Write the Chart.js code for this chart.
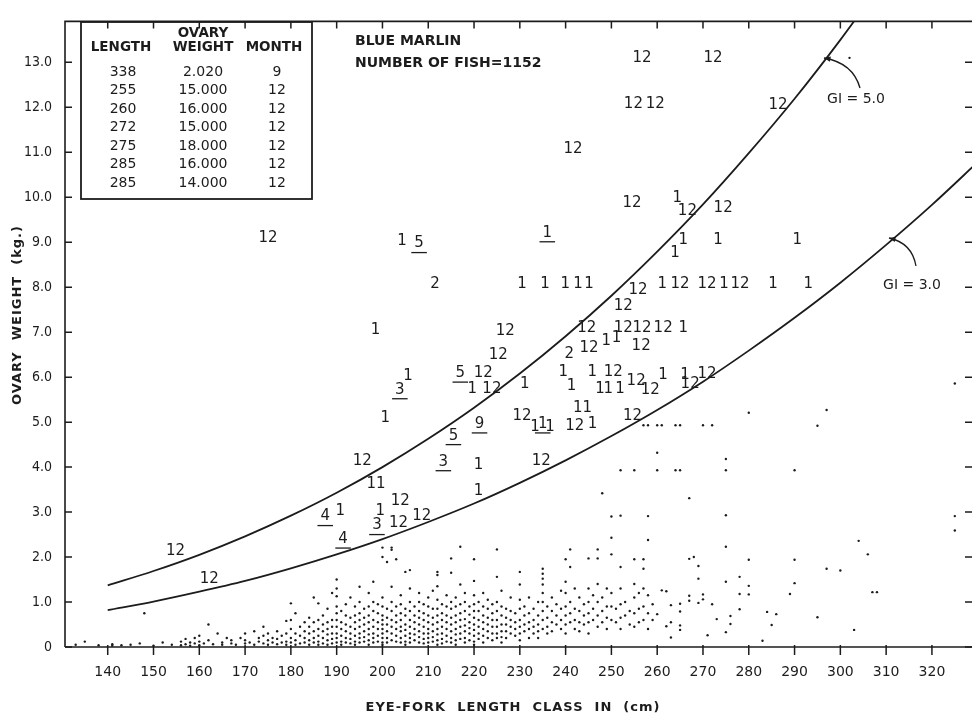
<!DOCTYPE html>
<html>
<head>
<meta charset="utf-8">
<script src="https://cdn.jsdelivr.net/npm/chart.js@4"></script>
<style>
  html, body { margin: 0; padding: 0; background: #fff; overflow: hidden; }
  canvas { display: block; }
</style>
</head>
<body>
<canvas id="marlinChart" width="980" height="721" style="width:980px;height:721px"></canvas>
<script>
// Axis ticks
const xTicks = [140, 150, 160, 170, 180, 190, 200, 210, 220, 230, 240, 250, 260, 270, 280, 290, 300, 310, 320];
const yTicks = [0, 1, 2, 3, 4, 5, 6, 7, 8, 9, 10, 11, 12, 13];

// Gonad index reference curves (at each 10 cm class)
const giLen = [140, 150, 160, 170, 180, 190, 200, 210, 220, 230, 240, 250, 260, 270, 280, 290, 300, 310, 320, 330];
const gi5Wt = [1.37, 1.69, 2.05, 2.46, 2.92, 3.43, 4.00, 4.63, 5.32, 6.08, 6.91, 7.81, 8.79, 9.84, 10.98, 12.19, 13.5, 14.9, null, null];
const gi3Wt = [0.82, 1.01, 1.23, 1.47, 1.75, 2.06, 2.40, 2.78, 3.19, 3.65, 4.15, 4.69, 5.27, 5.90, 6.59, 7.32, 8.10, 8.94, 9.83, 10.78];

// Fish without month mark: [length class, weights...]
const dotCols = [
  [133, .05], [135, .12], [138, .04], [141, .06, .03], [143, .04], [145, .05], [147, .08], [148, .75],
  [150, .03], [152, .1], [154, .05], [156, .12, .04], [157, .18, .06], [158, .1, .03], [159, .2, .08],
  [160, .25, .12, .04], [161, .08], [162, .5, .15], [163, .06], [164, .3], [165, .1, .05], [166, .2],
  [167, .15, .08], [168, .05], [169, .2], [170, .3, .15, .08], [171, .1], [172, .35, .05], [173, .2, .12],
  [174, .45, .25, .08], [175, .3, .15, .05], [176, .2, .1], [177, .35, .18, .06], [178, .25, .1],
  [179, .58, .3, .12, .05], [180, .97, .6, .4, .2, .1], [181, .75, .3, .15, .05], [182, .45, .25, .08],
  [183, .55, .35, .2, .1], [184, .65, .45, .3, .15, .05], [185, 1.1, .55, .35, .2, .1],
  [186, .97, .6, .4, .25, .12, .05], [187, .7, .5, .35, .2, .08], [188, .85, .55, .4, .28, .15, .05],
  [189, 1.2, .6, .45, .3, .18, .08], [190, 1.5, 1.3, 1.13, .9, .75, .6, .45, .3, .2, .1],
  [191, .8, .55, .4, .25, .12, .05], [192, .95, .7, .5, .35, .2, .1], [193, 1.1, .65, .45, .3, .18, .08],
  [194, .9, .7, .55, .4, .25, .12, .05], [195, 1.34, 1.0, .75, .6, .45, .3, .2, .1],
  [196, .85, .65, .5, .35, .22, .12], [197, 1.2, .9, .7, .55, .4, .28, .15, .05],
  [198, 1.45, 1.0, .8, .6, .45, .3, .2, .1], [199, .95, .75, .55, .4, .25, .12],
  [200, 2.21, 2.0, 1.1, .9, .7, .6, .5, .4, .3, .2, .1, .05], [201, 1.89, .85, .65, .5, .35, .2, .1],
  [202, 2.21, 2.16, 1.34, 1.0, .8, .6, .45, .3, .15], [203, 1.95, .9, .7, .55, .4, .25, .12],
  [204, 1.15, .95, .75, .6, .45, .35, .2, .1], [205, 1.67, .85, .7, .5, .38, .25, .12, .05],
  [206, 1.71, 1.3, 1.0, .8, .6, .45, .3, .2, .1], [207, .9, .7, .55, .4, .28, .15],
  [208, 1.2, 1.0, .8, .65, .5, .35, .22, .1], [209, .95, .75, .6, .45, .3, .18, .08],
  [210, 1.1, .9, .7, .55, .4, .3, .2, .1], [211, 1.25, .85, .65, .5, .35, .22, .12],
  [212, 1.67, 1.6, 1.35, 1.05, .85, .7, .55, .4, .28, .15, .05], [213, .95, .75, .6, .45, .3, .18, .08],
  [214, 1.15, .9, .7, .55, .4, .25, .12], [215, 1.97, 1.65, 1.0, .85, .65, .5, .35, .2, .1],
  [216, 1.1, .9, .7, .55, .4, .28, .15, .05], [217, 2.23, 1.39, .95, .75, .6, .45, .3, .18],
  [218, 1.2, 1.0, .8, .62, .48, .35, .2, .1], [219, .9, .72, .55, .42, .3, .15],
  [220, 1.95, 1.47, 1.15, .95, .8, .65, .5, .38, .25, .12, .05], [221, 1.0, .8, .6, .45, .3, .18],
  [222, 1.2, .9, .7, .55, .4, .25, .1], [223, 1.05, .85, .65, .5, .35, .2], [224, .95, .75, .6, .45, .3, .15],
  [225, 2.17, 1.56, 1.0, .8, .6, .45, .3, .2], [226, 1.25, .9, .7, .5, .35, .22, .1], [227, .85, .65, .5, .35, .2],
  [228, 1.1, .8, .6, .45, .3], [229, .75, .55, .4, .25], [230, 1.67, 1.39, 1.05, .85, .6, .45, .3, .15],
  [231, .9, .7, .5, .35], [232, 1.1, .75, .55, .4, .2], [233, .85, .6, .45, .3], [234, 1.0, .7, .5, .35, .2],
  [235, 1.74, 1.63, 1.52, 1.39, 1.2, 1.0, .8, .6, .4], [236, .9, .65, .45, .3], [237, 1.1, .8, .55, .35],
  [238, .95, .7, .5], [239, 1.25, .85, .6, .4], [240, 1.95, 1.45, 1.2, .9, .7, .5, .3],
  [241, 2.17, 1.78, 1.0, .75, .55], [242, 1.3, .85, .6, .4], [243, 1.1, .8, .55, .35], [244, .95, .7, .5],
  [245, 1.97, 1.3, 1.0, .75, .55, .3], [246, 1.15, .85, .6], [247, 2.17, 1.97, 1.4, 1.0, .7, .45],
  [248, 3.42, 1.1, .8, .55], [249, 1.3, .9, .65, .4], [250, 2.9, 2.43, 2.06, 1.2, .9, .6], [251, .85, .55],
  [252, 3.93, 2.92, 1.78, 1.3, .95, .65, .4], [253, 1.0, .7], [254, .8, .5], [255, 3.93, 1.95, 1.4, 1.1, .75, .45],
  [256, 1.2, .85, .55], [257, 4.93, 1.95, 1.74, 1.3, .9, .6], [258, 4.93, 2.91, 2.38, 1.15, .75, .4],
  [259, .95, .6], [260, 4.93, 4.32, 3.93, .73], [261, 4.93, 1.26], [262, 1.24, .46], [263, .93, .55, .21],
  [264, 4.93, 3.93], [265, 4.93, 3.93, .96, .79, .48, .38], [267, 3.31, 1.96, 1.14, 1.03], [268, 2.0],
  [269, 1.8, 1.52, .98], [270, 4.93, 1.17, 1.06], [271, .26], [272, 4.93, .95], [273, .62],
  [275, 4.18, 3.93, 2.93, 2.23, 1.45, .33], [276, .69, .51], [278, 1.56, 1.18, .84], [280, 5.21, 1.94, 1.36, 1.17],
  [283, .14], [284, .78], [285, .49], [286, .73], [289, 1.18], [290, 3.93, 1.94, 1.42], [295, 4.92, .66],
  [297, 5.27, 1.74], [300, 1.7], [302, 13.1], [303, .38], [304, 2.36], [306, 2.06], [307, 1.22], [308, 1.22],
  [325, 5.86, 2.91, 2.59]
];

// Fish marked with spawning month
const labelLen = [154.8, 162.2, 175.0, 195.6, 198.5, 203.8, 205.6, 200.6, 198.6, 203.9, 199.5, 198.8, 203.5, 208.6,
  187.5, 190.8, 191.4, 204.3, 208.0, 211.5, 226.8, 225.3, 217.0, 222.0, 219.6, 223.9, 231.1, 215.5, 221.2, 230.5,
  233.3, 235.0, 236.6, 242.0, 245.9, 243.7, 254.6, 230.5, 235.5, 239.9, 242.7, 245.1, 236.0, 255.8, 252.6, 244.6,
  245.1, 248.9, 251.1, 252.6, 256.7, 256.5, 240.8, 239.5, 241.3, 245.8, 250.4, 247.5, 249.3, 251.9, 255.4, 258.5,
  261.1, 265.0, 270.9, 274.6, 278.1, 285.3, 293.0, 261.3, 265.7, 261.3, 266.1, 267.2, 270.9, 272.2, 256.7, 254.8,
  259.6, 241.6, 254.5, 286.4, 264.4, 266.6, 274.4, 265.7, 273.3, 290.6, 263.9, 213.3, 221.0, 221.0, 234.7];
const labelWt = [2.13, 1.52, 9.10, 4.14, 7.05, 5.72, 6.02, 5.09, 3.62, 3.25, 3.03, 2.70, 2.76, 2.90,
  2.90, 3.03, 2.40, 9.03, 8.97, 8.06, 7.02, 6.50, 6.09, 6.09, 5.74, 5.74, 5.85, 4.70, 4.96, 5.13,
  4.88, 4.96, 4.88, 4.92, 4.96, 5.31, 5.13, 8.06, 8.06, 8.06, 8.06, 8.06, 9.21, 7.93, 7.58, 7.09,
  6.65, 6.80, 6.87, 7.09, 7.09, 6.70, 6.52, 6.11, 5.79, 6.11, 6.11, 5.74, 5.74, 5.74, 5.91, 5.72,
  8.06, 8.06, 8.06, 8.06, 8.06, 8.06, 8.06, 7.09, 7.09, 6.05, 6.05, 5.85, 6.07, 13.09, 13.09, 12.07,
  12.07, 11.07, 9.86, 12.05, 9.97, 9.69, 9.75, 9.04, 9.04, 9.04, 8.75, 4.12, 4.05, 3.47, 4.14];
const labelText = ["12", "12", "12", "12", "1", "3", "1", "1", "11", "12", "1", "3", "12", "12",
  "4", "1", "4", "1", "5", "2", "12", "12", "5", "12", "1", "12", "1", "5", "9", "12",
  "1", "1", "1", "12", "1", "11", "12", "1", "1", "1", "1", "1", "1", "12", "12", "12",
  "12", "1", "1", "12", "12", "12", "2", "1", "1", "1", "12", "1", "1", "1", "12", "12",
  "1", "12", "12", "1", "12", "1", "1", "12", "1", "1", "1", "12", "12", "12", "12", "12",
  "12", "12", "12", "12", "1", "12", "12", "1", "1", "1", "1", "3", "1", "1", "12"];
const labelUnder = [5, 11, 14, 16, 18, 22, 27, 28, 31, 42, 89];

// Inset table
const tableLen = ["338", "255", "260", "272", "275", "285", "285"];
const tableWt = ["2.020", "15.000", "16.000", "15.000", "18.000", "16.000", "14.000"];
const tableMonth = ["9", "12", "12", "12", "12", "12", "12"];

const INK = "#1c1c1c";
const FONT = '"DejaVu Sans", sans-serif';
const NARROW = '"DejaVu Sans Condensed", "DejaVu Sans", sans-serif';

const dotPoints = [];
dotCols.forEach((col) => {
  col.slice(1).forEach((w) => dotPoints.push({ x: col[0], y: w }));
});

const curve = (ys) => giLen.map((l, i) => ({ x: l, y: ys[i] })).filter((p) => p.y !== null);

const frame = {
  id: "frame",
  afterDraw(chart) {
    const { ctx, chartArea: a, scales } = chart;
    const x = scales.x, y = scales.y;
    ctx.save();
    ctx.strokeStyle = INK;
    ctx.fillStyle = INK;
    ctx.lineWidth = 1.6;
    ctx.beginPath();
    ctx.moveTo(a.left, a.bottom); ctx.lineTo(a.left, a.top); ctx.lineTo(a.right, a.top);
    ctx.lineTo(a.right, a.bottom); ctx.lineTo(a.left, a.bottom);
    ctx.stroke();

    // ticks: bottom outward, top/left/right inward
    ctx.lineWidth = 1.5;
    ctx.beginPath();
    xTicks.forEach((t) => {
      const px = x.getPixelForValue(t);
      ctx.moveTo(px, a.bottom - 2); ctx.lineTo(px, a.bottom + 8);
      ctx.moveTo(px, a.top); ctx.lineTo(px, a.top + 7);
    });
    yTicks.forEach((t) => {
      const py = y.getPixelForValue(t);
      ctx.moveTo(a.left, py); ctx.lineTo(a.left + 7, py);
      ctx.moveTo(a.right - 8, py); ctx.lineTo(a.right, py);
    });
    ctx.stroke();

    // month labels
    ctx.font = "15px " + FONT;
    ctx.textAlign = "center";
    ctx.textBaseline = "middle";
    ctx.lineWidth = 1.3;
    labelLen.forEach((l, i) => {
      const px = x.getPixelForValue(l);
      const py = y.getPixelForValue(labelWt[i]);
      ctx.fillText(labelText[i], px, py);
      if (labelUnder.includes(i)) {
        const w = ctx.measureText(labelText[i]).width + 6;
        ctx.beginPath();
        ctx.moveTo(px - w / 2, py + 9); ctx.lineTo(px + w / 2, py + 9);
        ctx.stroke();
      }
    });

    // inset table
    ctx.lineWidth = 1.8;
    ctx.strokeRect(81, 22, 231, 177);
    ctx.font = "600 13.5px " + FONT;
    ctx.fillText("LENGTH", 121, 47);
    ctx.fillText("OVARY", 203, 33);
    ctx.fillText("WEIGHT", 203, 47);
    ctx.fillText("MONTH", 274, 47);
    ctx.font = "14px " + FONT;
    tableLen.forEach((v, i) => {
      const ty = 72 + i * 18.5;
      ctx.fillText(v, 123, ty);
      ctx.fillText(tableWt[i], 203, ty);
      ctx.fillText(tableMonth[i], 277, ty);
    });

    // header note
    ctx.textAlign = "left";
    ctx.font = "600 14px " + FONT;
    ctx.fillText("BLUE MARLIN", 355, 41);
    ctx.fillText("NUMBER OF FISH=1152", 355, 63);

    // GI callouts
    ctx.textAlign = "center";
    ctx.font = "14px " + FONT;
    ctx.fillText("GI = 5.0", 856, 99);
    ctx.fillText("GI = 3.0", 912, 285);
    ctx.lineWidth = 1.3;
    const arrow = (sx, sy, cx, cy, ex, ey) => {
      ctx.beginPath();
      ctx.moveTo(sx, sy); ctx.quadraticCurveTo(cx, cy, ex, ey);
      ctx.stroke();
      const ang = Math.atan2(ey - cy, ex - cx);
      ctx.beginPath();
      ctx.moveTo(ex, ey);
      ctx.lineTo(ex - 7 * Math.cos(ang - 0.4), ey - 7 * Math.sin(ang - 0.4));
      ctx.lineTo(ex - 7 * Math.cos(ang + 0.4), ey - 7 * Math.sin(ang + 0.4));
      ctx.closePath();
      ctx.fill();
    };
    arrow(860, 88, 853, 63, 824, 58);
    arrow(916, 266, 912, 243, 889, 238);

    // axis titles
    ctx.font = "600 13px " + FONT;
    ctx.letterSpacing = "1px";
    ctx.fillText("EYE-FORK  LENGTH  CLASS  IN  (cm)", 513, 708);
    ctx.translate(18, 315);
    ctx.rotate(-Math.PI / 2);
    ctx.fillText("OVARY  WEIGHT  (kg.)", 0, 0);
    ctx.restore();
  }
};

new Chart(document.getElementById("marlinChart"), {
  data: {
    datasets: [
      {
        type: "scatter",
        data: dotPoints,
        pointRadius: 1.2,
        pointBackgroundColor: INK,
        pointBorderWidth: 0
      },
      {
        type: "line",
        data: curve(gi5Wt),
        borderColor: INK,
        borderWidth: 1.8,
        pointRadius: 0,
        cubicInterpolationMode: "monotone"
      },
      {
        type: "line",
        data: curve(gi3Wt),
        borderColor: INK,
        borderWidth: 1.8,
        pointRadius: 0,
        cubicInterpolationMode: "monotone"
      }
    ]
  },
  options: {
    responsive: false,
    animation: false,
    devicePixelRatio: 1,
    layout: { padding: { left: 0, right: 7, top: 5, bottom: 0 } },
    plugins: { legend: { display: false }, tooltip: { enabled: false } },
    scales: {
      x: {
        type: "linear",
        min: 130.67,
        max: 328.97,
        afterBuildTicks: (s) => { s.ticks = xTicks.map((v) => ({ value: v })); },
        afterFit: (s) => { s.height = 74; },
        grid: { display: false, drawTicks: false },
        border: { display: false },
        ticks: { color: INK, padding: 17, font: { family: FONT, size: 14 }, callback: (v) => String(v) }
      },
      y: {
        type: "linear",
        min: 0,
        max: 13.91,
        afterBuildTicks: (s) => { s.ticks = yTicks.map((v) => ({ value: v })); },
        afterFit: (s) => { s.width = 65; },
        grid: { display: false, drawTicks: false },
        border: { display: false },
        ticks: { color: INK, padding: 13, font: { family: NARROW, size: 14 }, callback: (v) => (v === 0 ? "0" : v.toFixed(1)) }
      }
    }
  },
  plugins: [frame]
});
</script>
</body>
</html>
